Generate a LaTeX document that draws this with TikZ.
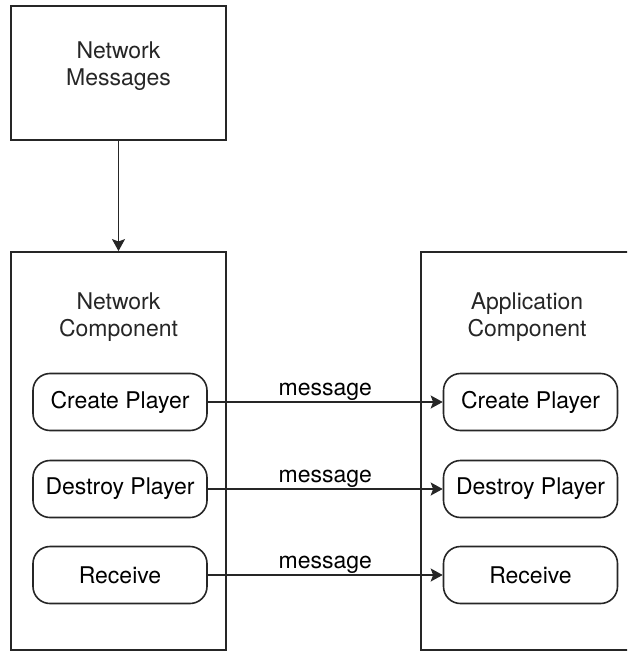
\documentclass[tikz,border=0pt]{standalone}
\usepackage{fontspec}
\setmainfont{TeX Gyre Heros}
\usetikzlibrary{arrows.meta,positioning}

\tikzset{
  box/.style={draw=black!85, line width=0.9pt, minimum width=107.5pt},
  func/.style={draw=black!85, line width=0.8pt, rounded corners=8.5pt,
    minimum width=87pt, minimum height=28.5pt, inner sep=0pt},
  title/.style={align=center, text=black!85},
  msg/.style={-{Stealth[length=6pt,width=6.5pt,inset=1.2pt]}, line width=0.8pt, draw=black!85}
}

\begin{document}
\begin{tikzpicture}[x=0.5pt,y=-0.5pt,font=\fontsize{11.5}{13.5}\selectfont]
  \useasboundingbox (0,0) rectangle (627,652);
  \clip (0,0) rectangle (627,652);
  % source of the messages
  \node[box, minimum height=67pt] (netmsg) at (118.5,73) {};
  \node[title] (netmsgtxt) at (118.5,66) {Network\\Messages};
  % the two components
  \node[box, minimum height=199pt] (netcomp) at (118.5,451) {};
  \node[box, minimum height=199pt] (appcomp) at (528.5,451) {};
  \node[title] (netcomptxt) at (118.5,317) {Network\\Component};
  \node[title] (appcomptxt) at (527,317) {Application\\Component};
  % handlers
  \node[func] (ncreate) at (120,402) {Create Player};
  \node[func] (ndestroy) at (120,489) {Destroy Player};
  \node[func] (nreceive) at (120,575) {Receive};
  \node[func] (acreate) at (530.5,402) {Create Player};
  \node[func] (adestroy) at (530.5,489) {Destroy Player};
  \node[func] (areceive) at (530.5,575) {Receive};
  \draw[msg] (netmsg) -- (netcomp);
  \draw[msg] (ncreate) -- node[midway,above,inner sep=0.5pt] {message} (acreate);
  \draw[msg] (ndestroy) -- node[midway,above,inner sep=0.5pt] {message} (adestroy);
  \draw[msg] (nreceive) -- node[midway,above,inner sep=0.5pt] {message} (areceive);
\end{tikzpicture}
\end{document}
